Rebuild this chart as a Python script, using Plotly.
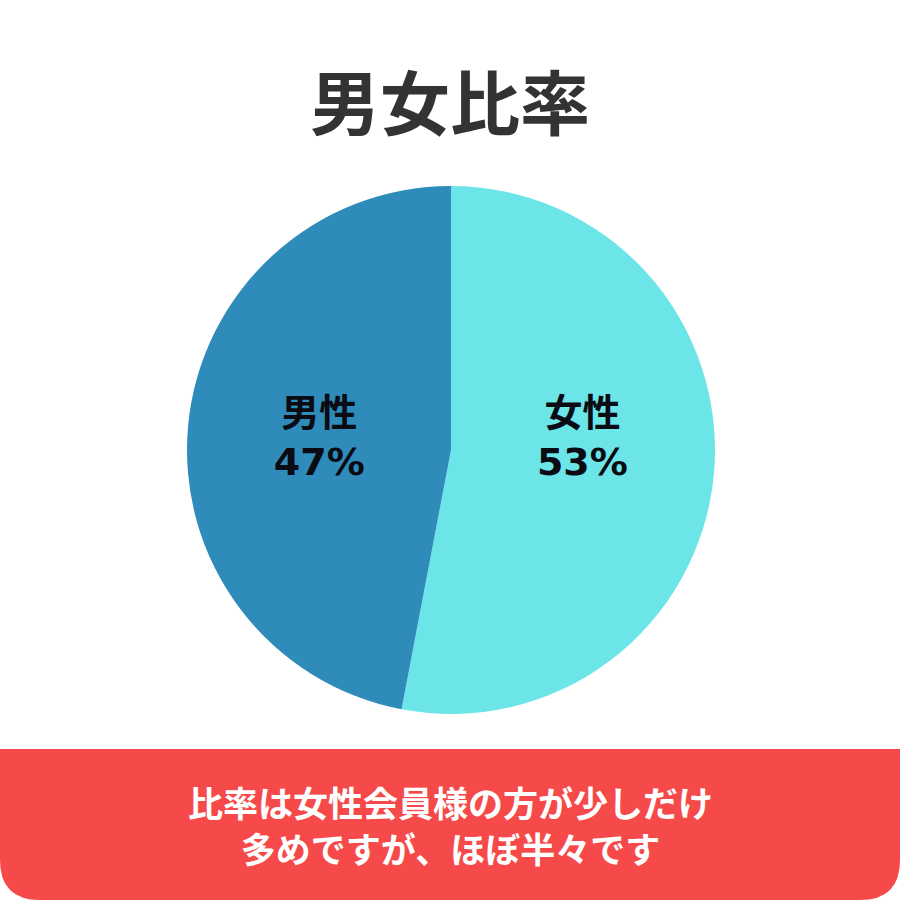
import plotly.graph_objects as go

# 男女比率のデータ
labels = ["女性", "男性"]
values = [53, 47]
colors = ["#6ce5e8", "#2e8bba"]

title_text = "男女比率"
note_lines = ["比率は女性会員様の方が少しだけ", "多めですが、ほぼ半々です"]

W, H = 900, 900
cx, cy, r = 451, 450, 264

fig = go.Figure(go.Pie(
    labels=labels,
    values=values,
    marker=dict(colors=colors, line=dict(width=0)),
    sort=False,
    direction="clockwise",
    rotation=0,
    # 女性側は空行を足してラベルを少し上へ
    texttemplate=["%{label}<br>%{percent:.0%}<br> ",
                  "%{label}<br>%{percent:.0%}"],
    textposition="inside",
    insidetextorientation="horizontal",
    textfont=dict(family="DejaVu Sans, Noto Sans CJK JP", size=38,
                  color="#0b0b14", weight="bold"),
    hoverinfo="label+percent",
    showlegend=False,
    domain=dict(x=[(cx - r) / W, (cx + r) / W],
                y=[1 - (cy + r) / H, 1 - (cy - r) / H]),
))

# 下部の赤いボックス(下の角だけ丸い)
top = 1 - 749 / H
rx, ry = 40 / W, 40 / H
path = (f"M 0 {top} L 1 {top} L 1 {ry} Q 1 0 {1 - rx} 0 "
        f"L {rx} 0 Q 0 0 0 {ry} Z")

fig.update_layout(
    width=W, height=H,
    margin=dict(l=0, r=0, t=0, b=0),
    paper_bgcolor="white",
    plot_bgcolor="white",
    title=dict(text=title_text, x=0.5, xanchor="center",
               y=1 - 105 / H, yanchor="middle", yref="container",
               font=dict(family="Noto Sans CJK JP", size=70,
                         color="#333333", weight="bold")),
    shapes=[dict(type="path", path=path, xref="paper", yref="paper",
                 fillcolor="#f64a4a", line=dict(width=0), layer="below")],
    annotations=[dict(text="<br>".join(note_lines), x=0.5, y=1 - 824 / H,
                      xref="paper", yref="paper", showarrow=False,
                      xanchor="center", yanchor="middle", align="center",
                      font=dict(family="Noto Sans CJK JP", size=35,
                                color="white", weight="bold"))],
)

# ページ余白をなくす
fig.write_html("out.html", config={"displayModeBar": False},
               post_script="document.body.style.margin='0';")
